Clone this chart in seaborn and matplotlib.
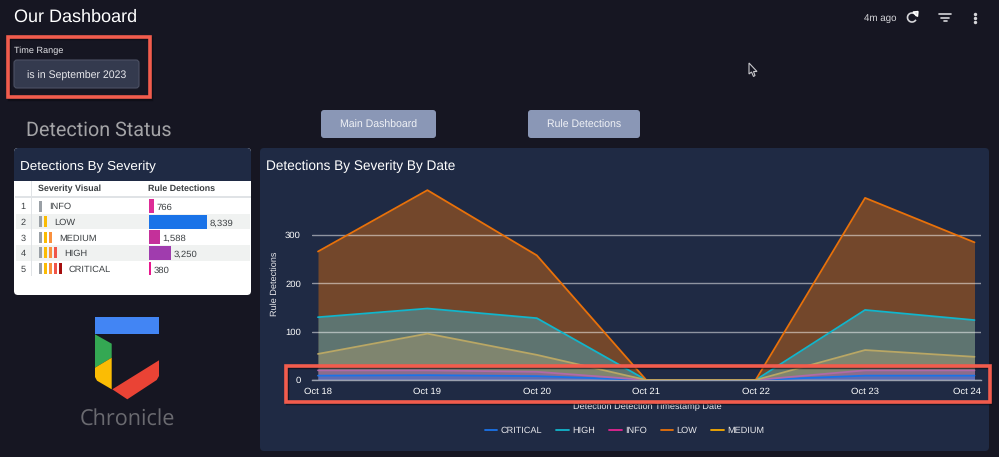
import numpy as np
import pandas as pd
import matplotlib
matplotlib.use("Agg")
import matplotlib.pyplot as plt
from matplotlib.lines import Line2D
from matplotlib.patches import FancyBboxPatch, Polygon, Rectangle, Arc
from matplotlib.transforms import ScaledTranslation
import seaborn as sns

W, H = 999, 457

dates = ["Oct 18", "Oct 19", "Oct 20", "Oct 21", "Oct 22", "Oct 23", "Oct 24"]
critical = [9, 10, 8, 0, 0, 9, 9]
high = [130, 148, 128, 0, 0, 145, 124]
info = [20, 20, 17, 0, 0, 20, 20]
low = [266, 393, 258, 0, 0, 377, 285]
medium = [54, 96, 52, 0, 0, 62, 48]
series_names = ["CRITICAL", "HIGH", "INFO", "LOW", "MEDIUM"]
series_colors = ["#1a73e8", "#12b5cb", "#e52592", "#e8710a", "#f9ab00"]
line_colors = ["#1a73e8", "#12b5cb", "#b06aa8", "#e8710a", "#b9a765"]
fill_colors = ["#216eeb", "#41b3d0", "#9e4db3", "#e8710a", "#ad9d6f"]

severity = ["INFO", "LOW", "MEDIUM", "HIGH", "CRITICAL"]
detections = [766, 8339, 1588, 3250, 380]
bar_colors = ["#dd2c96", "#1a73e8", "#c4309a", "#a03cae", "#e8178e"]
level_colors = ["#9aa0a6", "#fbbc04", "#fa903e", "#f0564a", "#a50e0e"]

BG = "#161622"
PANEL = "#1f2a44"
RED = "#f25c4d"

sns.set_theme(style="dark")
plt.rcParams["font.family"] = ["Liberation Sans", "DejaVu Sans"]
plt.rcParams["text.hinting"] = "none"

fig = plt.figure(figsize=(W / 100, H / 100), dpi=100, facecolor=BG)


def px_axes(left, top, right, bottom, **kw):
    return fig.add_axes([left / W, 1 - bottom / H, (right - left) / W, (bottom - top) / H], **kw)


def round_box(ax, x0, y0, x1, y1, color, r=3, **kw):
    ax.add_patch(FancyBboxPatch((x0 + r, y0 + r), x1 - x0 - 2 * r, y1 - y0 - 2 * r,
                                boxstyle=f"round,pad={r},rounding_size={r}",
                                fc=color, ec=kw.pop("ec", "none"), lw=kw.pop("lw", 0), **kw))


# page furniture in pixel coordinates
bg = fig.add_axes([0, 0, 1, 1], zorder=0)
bg.set_xlim(0, W)
bg.set_ylim(H, 0)
bg.axis("off")

bg.text(14, 17.5, "Our Dashboard", color="white", fontsize=13, va="center")
bg.text(14, 50.5, "Time Range", color="#e4e4e8", fontsize=6.6, va="center")
round_box(bg, 14, 60, 139, 88, "#343a4e", ec="#4c5164", lw=0.8)
bg.text(76.5, 75.5, "is in September 2023", color="#e8e8ec", fontsize=7.6, ha="center", va="center")
bg.text(26, 130, "Detection Status", color="#a3a3a6", fontsize=14.2, va="center",
        family=["Roboto", "DejaVu Sans"])

for x0, x1, label in [(321, 436, "Main Dashboard"), (528, 640, "Rule Detections")]:
    round_box(bg, x0, 110, x1, 138, "#8a97b6")
    bg.text((x0 + x1) / 2, 125.5, label, color="#f0f2f6", fontsize=7.6, ha="center", va="center")

# top right controls
bg.text(880, 18, "4m ago", color="#d6d6da", fontsize=7, ha="center", va="center")
bg.add_patch(Arc((912, 17.5), 9, 9, theta1=-330, theta2=-20, ec="#d6d6da", lw=1.2))
bg.add_patch(Polygon([(913, 12), (918, 11.5), (917.5, 16.5)], fc="#d6d6da"))
for y, half in [(14, 6), (17.5, 4), (21, 1.5)]:
    bg.plot([945 - half, 945 + half], [y, y], color="#d6d6da", lw=1.2)
bg.scatter([975, 975, 975], [13.5, 17.5, 21.5], s=6, color="#d6d6da", lw=0)
bg.add_patch(Polygon([(749, 63), (749, 74), (751.5, 72), (753.5, 76.5), (755, 75.5),
                      (753.5, 71.5), (757, 71.5)], fc=BG, ec="#c8c8cc", lw=0.8))

# table card
round_box(bg, 14, 148, 251, 295, "white", r=4)
round_box(bg, 14, 148, 251, 190, PANEL, r=4)
bg.add_patch(Rectangle((14, 181), 237, 12, fc="white", lw=0))
bg.text(20, 166.5, "Detections By Severity", color="white", fontsize=9.7, va="center")
bg.text(38, 189, "Severity Visual", color="#3c4043", fontsize=6.4, weight="bold", va="center")
bg.text(148, 189, "Rule Detections", color="#3c4043", fontsize=6.4, weight="bold", va="center")
bg.add_patch(Rectangle((15, 196), 236, 2, fc="#e0e3e6", lw=0))
row_y = 206 + 15.65 * np.arange(len(severity))
for i, name in enumerate(severity):
    if i % 2 == 1:
        bg.add_patch(Rectangle((16, row_y[i] - 7.8), 234, 15.6, fc="#f0f2f1", lw=0))
    bg.text(23, row_y[i] + 0.8, str(i + 1), color="#3c4043", fontsize=6.6, ha="center", va="center")
    for j in range(i + 1):
        bg.add_patch(Rectangle((39 + 4.9 * j, row_y[i] - 5.5), 3, 11, fc=level_colors[j], lw=0))
    bg.text(49 + 5 * i, row_y[i] + 0.8, name, color="#3c4043", fontsize=6.7, va="center")
bg.add_patch(Rectangle((31, 181), 1.2, 95, fc="#e0e3e6", lw=0))
bg.add_patch(Rectangle((141.5, 185), 0.8, 91, fc="#e0e3e6", lw=0))

# logo
bg.add_patch(Polygon([(95, 317), (159, 317), (159, 333.7), (95, 333.7)], fc="#4285f4", lw=0))
bg.add_patch(Polygon([(95, 334.3), (111.7, 343.7), (111.7, 357.7), (95, 367.7)], fc="#34a853", lw=0))
bg.add_patch(Polygon([(95, 367.7), (111.7, 357.7), (111.7, 389.3), (97, 380.7), (95, 377)], fc="#fbbc04", lw=0))
bg.add_patch(Polygon([(112.3, 389.3), (159, 360.3), (159, 376), (156.7, 380), (127.3, 399.3)], fc="#ea4335", lw=0))
bg.text(127, 419, "Chronicle", color="#6a6a70", fontsize=15.6, ha="center", va="center",
        family=["Open Sans", "DejaVu Sans"])

# chart card
round_box(bg, 260, 148, 989, 451, PANEL, r=4)
bg.text(266, 166.5, "Detections By Severity By Date", color="white", fontsize=9.8, va="center")
bg.text(275, 284, "Rule Detections", color="#e8e8ec", fontsize=6.6, rotation=90, ha="center", va="center")
bg.text(647, 406.5, "Detection Detection Timestamp Date", color="#e8e8ec", fontsize=6.6, ha="center", va="center")

# severity bars
bar_ax = px_axes(148.5, row_y[0] - 7.8, 248.5, row_y[-1] + 7.8, zorder=2)
bar_ax.patch.set_alpha(0)
sns.barplot(x=detections, y=severity, hue=severity, palette=bar_colors, legend=False,
            width=0.88, orient="h", dodge=False, saturation=1, linewidth=0, ax=bar_ax)
bar_ax.set_xlim(0, 8339 * 100 / 58)
bar_ax.set_ylim(len(severity) - 0.5, -0.5)
bar_ax.axis("off")
for i, value in enumerate(detections):
    bar_ax.annotate(f"{value:,}", (value, i), xytext=(2, -1.2), textcoords="offset points",
                    va="center", fontsize=6.8, color="#3c4043", annotation_clip=False)

# area chart, one row per date and severity
area = pd.DataFrame({"date": dates, "CRITICAL": critical, "HIGH": high, "INFO": info,
                     "LOW": low, "MEDIUM": medium})
long_area = area.melt(id_vars="date", var_name="severity", value_name="count")

ax = px_axes(312, 185, 981, 380, zorder=2)
ax.patch.set_alpha(0)
fill_palette = dict(zip(series_names, fill_colors))
for name in ["LOW", "HIGH", "MEDIUM", "INFO", "CRITICAL"]:
    ax.fill_between(np.arange(len(dates)), area[name], color=fill_palette[name], alpha=0.42, lw=0, zorder=2)
sns.lineplot(data=long_area, x="date", y="count", hue="severity", hue_order=series_names,
             palette=dict(zip(series_names, line_colors)), linewidth=1.3, sort=False,
             legend=False, ax=ax, zorder=4)

ax.set_xlim(-6 / 109.4, 6 + 6.5 / 109.4)
ax.set_ylim(0, 195 / 0.483)
ax.set_yticks([0, 100, 200, 300])
ax.grid(axis="y", color="white", alpha=0.5, lw=1, zorder=3)
ax.grid(axis="x", visible=False)
ax.set_axisbelow(False)
ax.set_xlabel("")
ax.set_ylabel("")
ax.tick_params(axis="both", length=0, labelcolor="white", labelsize=6.8)
ax.tick_params(axis="x", pad=5)
ax.tick_params(axis="y", pad=8)
for side in ["top", "left", "right"]:
    ax.spines[side].set_visible(False)
ax.spines["bottom"].set_color("#9aa0ae")
ax.spines["bottom"].set_linewidth(1)

# last date label sits flush with the axis end
last_label = ax.get_xticklabels()[-1]
last_label.set_ha("right")
last_label.set_transform(last_label.get_transform() + ScaledTranslation(6.5 / 100, 0, fig.dpi_scale_trans))

handles = [Line2D([], [], color=c, lw=1.3) for c in series_colors]
ax.legend(handles, series_names, loc="center", bbox_to_anchor=(624.5 / W, 1 - 430.5 / H),
          bbox_transform=fig.transFigure, ncol=5, frameon=False, fontsize=6.6,
          labelcolor="#e8e8ec", handlelength=1.36, handletextpad=0.35, columnspacing=1.55)

# red highlight boxes on top of everything
top = fig.add_axes([0, 0, 1, 1], zorder=5)
top.set_xlim(0, W)
top.set_ylim(H, 0)
top.axis("off")
for x0, y0, x1, y1 in [(8, 36.5, 150, 97), (286, 365.5, 989.5, 401.5)]:
    top.add_patch(Rectangle((x0 + 0.5, y0 + 1.5), x1 - x0, y1 - y0, fill=False, ec="#0b0b12", lw=2.4, alpha=0.6))
    top.add_patch(Rectangle((x0, y0), x1 - x0, y1 - y0, fill=False, ec=RED, lw=2.6))

fig.savefig("out.png", dpi=100, facecolor=BG)
